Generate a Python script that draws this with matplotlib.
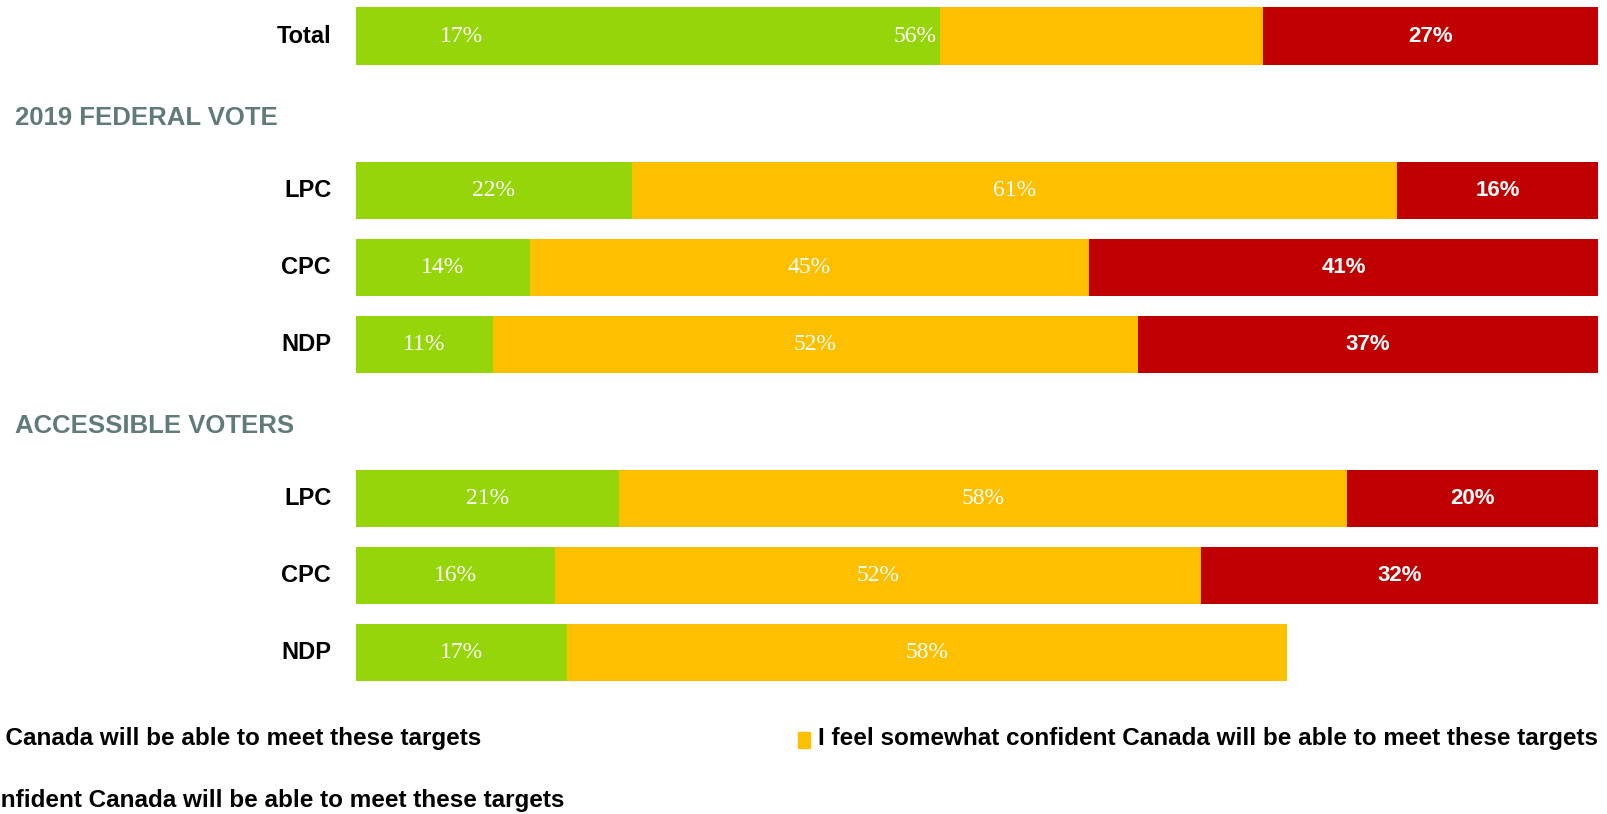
import matplotlib
matplotlib.use("Agg")
import matplotlib.pyplot as plt
from matplotlib.patches import Rectangle

# ---- data ----
rows = ["Total", "LPC", "CPC", "NDP", "LPC", "CPC", "NDP"]
row_slots = [0, 2, 3, 4, 6, 7, 8]
headers = ["2019 FEDERAL VOTE", "ACCESSIBLE VOTERS"]
header_slots = [1, 5]

very = [17, 22, 14, 11, 21, 16, 17]          # labelled value
very_drawn = [47, 22, 14, 11, 21, 16, 17]    # width of green bar as rendered in source
somewhat = [56, 61, 45, 52, 58, 52, 58]
not_conf = [27, 16, 41, 37, 20, 32, None]

legend_labels = [
    "I feel very confident Canada will be able to meet these targets",
    "I feel somewhat confident Canada will be able to meet these targets",
    "I do not feel confident Canada will be able to meet these targets",
]

GREEN = "#96D50A"
YELLOW = "#FDC000"
RED = "#C00000"
HEADER = "#607B78"

W, H = 1608, 814
fig = plt.figure(figsize=(W / 100, H / 100), dpi=100)
ax = fig.add_axes([356 / W, 0, 1242 / W, 1])
ax.set_xlim(0, 100)
ax.set_ylim(10.09, -0.467)
ax.axis("off")

bh = 0.74
for i, slot in enumerate(row_slots):
    # rows with all three answers are shown as shares of 100%
    if not_conf[i] is not None:
        k = 100.0 / (very[i] + somewhat[i] + not_conf[i])
    else:
        k = 1.0
    v, s = very[i] * k, somewhat[i] * k
    g = very_drawn[i] * k
    ax.barh(slot, g, height=bh, color=GREEN, linewidth=0)
    ax.barh(slot, v + s - g, left=g, height=bh, color=YELLOW, linewidth=0)
    ax.text(v / 2, slot, f"{very[i]}%", ha="center", va="center",
            color="white", fontsize=17, family="Liberation Serif")
    ax.text(v + s / 2, slot, f"{somewhat[i]}%", ha="center", va="center",
            color="white", fontsize=17, family="Liberation Serif")
    if not_conf[i] is not None:
        n = not_conf[i] * k
        ax.barh(slot, n, left=v + s, height=bh, color=RED, linewidth=0)
        ax.text(v + s + n / 2, slot, f"{not_conf[i]}%", ha="center", va="center",
                color="white", fontsize=16, fontweight="bold", family="Liberation Sans")
    ax.text(-2.0, slot, rows[i], ha="right", va="center", fontsize=17,
            fontweight="bold", family="Liberation Sans", color="black")

for h, s in zip(headers, header_slots):
    ax.text(-27.45, s + 0.06, h, ha="left", va="center", fontsize=18.5,
            fontweight="bold", family="Liberation Sans", color=HEADER)

# ---- legend (partly off canvas, as in source) ----
lfont = dict(fontsize=17.5, fontweight="bold", family="Liberation Sans", color="black")
fig.text(481 / W, 1 - 738 / H, legend_labels[0], ha="right", va="center", **lfont)
fig.text(1598 / W, 1 - 738 / H, legend_labels[1], ha="right", va="center", **lfont)
fig.text(564 / W, 1 - 801 / H, legend_labels[2], ha="right", va="center", **lfont)
fig.patches.append(Rectangle((798 / W, 1 - 748 / H), 12 / W, 16 / H,
                             transform=fig.transFigure, color=YELLOW, figure=fig))

fig.savefig("out.png", dpi=100, facecolor="white")
